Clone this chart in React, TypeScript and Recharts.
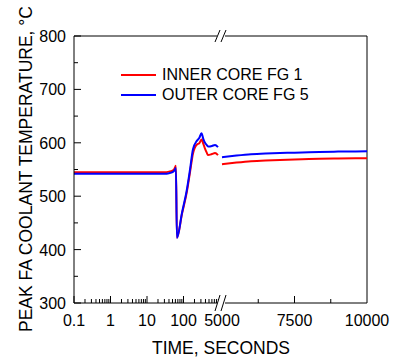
import { LineChart, Line, XAxis, YAxis, ReferenceLine, Legend } from 'recharts';

// early transient, seconds on a log axis
const earlyTimes = [0.1, 1, 10, 30, 40, 50, 56, 62, 66, 91, 125, 151, 182, 234, 270, 311, 350, 388, 430, 469, 603, 730, 881];
const innerEarly = [545, 545, 545, 545, 546, 548, 551, 557, 422, 467, 510, 545, 580, 597, 599, 606, 598, 589, 582, 577, 579, 581, 577];
const outerEarly = [542, 542, 542, 542, 543, 545, 548, 553, 422, 469, 514, 550, 588, 604, 609, 618, 607, 600, 596, 593, 594, 596, 592];

// late part, linear axis
const lateTimes = [5000, 5500, 6000, 6500, 7000, 7500, 8000, 9000, 10000];
const innerLate = [560, 563, 565.5, 567, 568, 568.5, 569.5, 570.5, 571];
const outerLate = [573, 576, 578.5, 580, 581, 581.5, 582.5, 583.5, 584];

const logMajorTicks = [0.1, 1, 10, 100];
const logMinorTicks = logMajorTicks.flatMap((d) => [2, 3, 4, 5, 6, 7, 8, 9].map((k) => +(d * k).toPrecision(3)));
const linMajorTicks = [5000, 7500, 10000];
const linMinorTicks = [6250, 8750];
const tempTicks = [300, 400, 500, 600, 700, 800];
const tempMinorTicks = [350, 450, 550, 650, 750];

const INNER = 'INNER CORE FG 1';
const OUTER = 'OUTER CORE FG 5';
const FONT = '"Liberation Sans", Arial, sans-serif';

const earlyData = earlyTimes.map((t, i) => ({ t, inner: innerEarly[i], outer: outerEarly[i] }));
const lateData = lateTimes.map((t, i) => ({ t, inner: innerLate[i], outer: outerLate[i] }));

const makeXTick = (majors: number[], noLine: number[] = []) => (props: any) => {
  const { x, y, payload } = props;
  const v = payload.value;
  const major = majors.includes(v);
  return (
    <g>
      {!noLine.includes(v) && <line x1={x} x2={x} y1={y} y2={y - (major ? 7 : 4)} stroke="#000" />}
      {major && (
        <text x={x} y={y + 23} textAnchor="middle" fontSize={16} fontFamily={FONT} fill="#000">
          {v}
        </text>
      )}
    </g>
  );
};

const YTick = (props: any) => {
  const { x, y, payload } = props;
  const major = tempTicks.includes(payload.value);
  return (
    <g>
      <line x1={x} x2={x + (major ? 7 : 4)} y1={y} y2={y} stroke="#000" />
      {major && (
        <text x={x - 8} y={y + 6} textAnchor="end" fontSize={16} fontFamily={FONT} fill="#000">
          {payload.value}
        </text>
      )}
    </g>
  );
};

const LegendBox = ({ payload }: any) => (
  <div style={{ fontFamily: FONT, fontSize: 16, color: '#000' }}>
    {(payload || []).map((p: any) => (
      <div key={p.value} style={{ display: 'flex', alignItems: 'center', height: 20 }}>
        <svg width={41} height={20}>
          <line x1={0} x2={35} y1={10} y2={10} stroke={p.color} strokeWidth={2} />
        </svg>
        <span>{p.value}</span>
      </div>
    ))}
  </div>
);

export default function App() {
  return (
    <div>
      <div style={{ position: 'absolute', left: 0, top: 0 }}>
        <LineChart width={395} height={361} data={earlyData} margin={{ top: 36, right: 175, bottom: 28, left: 0 }}>
          <XAxis
            dataKey="t"
            type="number"
            scale="log"
            domain={[0.1, 1000]}
            allowDataOverflow
            ticks={[...logMajorTicks, ...logMinorTicks]}
            interval={0}
            height={30}
            tickSize={0}
            tickMargin={0}
            tickLine={false}
            stroke="#000"
            tick={makeXTick(logMajorTicks)}
            label={() => (
              <text x={221} y={354} textAnchor="middle" fontSize={17.5} fontFamily={FONT} fill="#000">
                TIME, SECONDS
              </text>
            )}
          />
          <YAxis
            type="number"
            domain={[300, 800]}
            ticks={[...tempTicks, ...tempMinorTicks]}
            interval={0}
            width={74}
            tickSize={0}
            tickMargin={0}
            tickLine={false}
            stroke="#000"
            tick={YTick}
            label={() => (
              <text x={31.5} y={169} transform="rotate(-90 31.5 169)" textAnchor="middle" fontSize={17.5} fontFamily={FONT} fill="#000">
                PEAK FA COOLANT TEMPERATURE, °C
              </text>
            )}
          />
          <ReferenceLine y={800} stroke="#000" />
          <Line dataKey="inner" name={INNER} stroke="#ff0000" strokeWidth={2} dot={false} type="monotoneX" isAnimationActive={false} />
          <Line dataKey="outer" name={OUTER} stroke="#0000ff" strokeWidth={2} dot={false} type="monotoneX" isAnimationActive={false} />
          <Legend
            layout="vertical"
            align="center"
            verticalAlign="middle"
            content={LegendBox}
            wrapperStyle={{ top: 65, left: 121, width: 250 }}
          />
        </LineChart>
      </div>
      <div style={{ position: 'absolute', left: 0, top: 0 }}>
        <LineChart width={395} height={361} data={lateData} margin={{ top: 36, right: 28, bottom: 28, left: 222 }}>
          <XAxis
            dataKey="t"
            type="number"
            domain={[5000, 10000]}
            ticks={[...linMajorTicks, ...linMinorTicks]}
            interval={0}
            height={30}
            tickSize={0}
            tickMargin={0}
            tickLine={false}
            stroke="#000"
            tick={makeXTick(linMajorTicks, [5000, 10000])}
          />
          <YAxis type="number" domain={[300, 800]} hide />
          <ReferenceLine y={800} stroke="#000" />
          <ReferenceLine x={10000} stroke="#000" />
          <Line dataKey="inner" name={INNER} stroke="#ff0000" strokeWidth={2} dot={false} type="monotoneX" isAnimationActive={false} />
          <Line dataKey="outer" name={OUTER} stroke="#0000ff" strokeWidth={2} dot={false} type="monotoneX" isAnimationActive={false} />
        </LineChart>
      </div>
      {/* axis break marks */}
      <svg width={395} height={361} style={{ position: 'absolute', left: 0, top: 0, pointerEvents: 'none' }}>
        <rect x={217} y={33} width={8} height={6} fill="#fff" />
        <line x1={215} y1={42} x2={220} y2={30} stroke="#000" />
        <line x1={221} y1={42} x2={226} y2={30} stroke="#000" />
        <rect x={217} y={300} width={8} height={6} fill="#fff" />
        <line x1={215} y1={311} x2={220} y2={295} stroke="#000" />
        <line x1={221} y1={311} x2={226} y2={295} stroke="#000" />
      </svg>
    </div>
  );
}
